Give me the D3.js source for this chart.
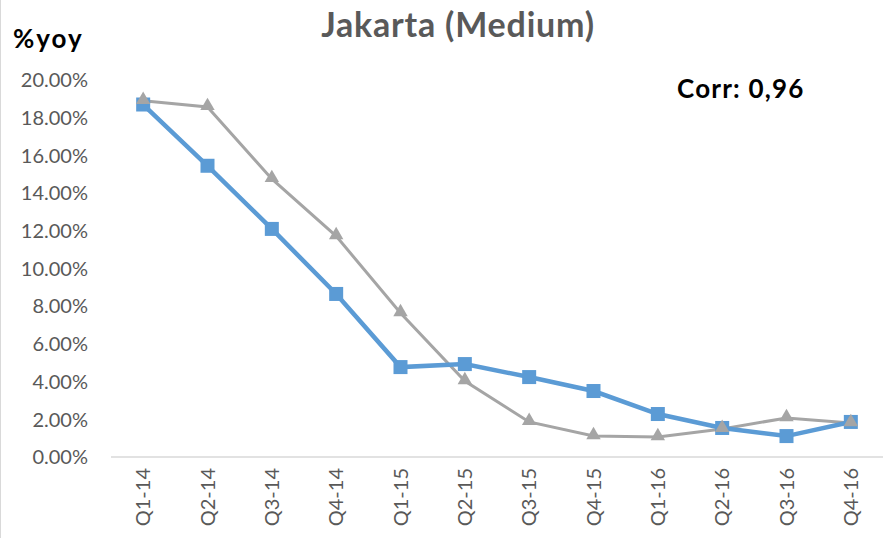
<!DOCTYPE html>
<html>
<head>
<meta charset="utf-8">
<script src="https://cdn.jsdelivr.net/npm/d3@7"></script>
<style>
  body { margin: 0; background: #fff; }
  text { font-family: Lato, "Open Sans", sans-serif; }
</style>
</head>
<body>
<main></main>
<script>
const quarters = ["Q1-14", "Q2-14", "Q3-14", "Q4-14", "Q1-15", "Q2-15", "Q3-15", "Q4-15", "Q1-16", "Q2-16", "Q3-16", "Q4-16"];
const blueSeries = [18.7, 15.45, 12.1, 8.65, 4.77, 4.93, 4.24, 3.5, 2.28, 1.54, 1.11, 1.86];
const graySeries = [18.9, 18.57, 14.75, 11.72, 7.64, 4.03, 1.86, 1.11, 1.06, 1.49, 2.07, 1.8];
const yTicks = [0, 2, 4, 6, 8, 10, 12, 14, 16, 18, 20];

const width = 883, height = 538;

const svg = d3.select("main")
  .append("svg")
  .attr("width", width)
  .attr("height", height);

// light frame on left edge like the excel chart area
svg.append("line")
  .attr("x1", 0.5).attr("x2", 0.5)
  .attr("y1", 0).attr("y2", height)
  .style("stroke", "#d9d9d9");

// scales
const x = d3.scaleBand().domain(quarters).range([111, 883]);
const y = d3.scaleLinear().domain([0, 20]).range([457, 80]);

// y axis labels
svg.append("g")
  .selectAll("text")
    .data(yTicks).enter()
  .append("text")
    .attr("x", 88)
    .attr("y", (d) => y(d))
    .attr("dy", "0.36em")
    .style("text-anchor", "end")
    .style("font-size", "20px")
    .style("fill", "#595959")
    .text((d) => d.toFixed(2) + "%");

// x axis line
svg.append("line")
  .attr("x1", 111).attr("x2", 883)
  .attr("y1", y(0)).attr("y2", y(0))
  .style("stroke", "#d9d9d9")
  .style("stroke-width", 1.5);

// x labels rotated
svg.append("g")
  .selectAll("text")
    .data(quarters).enter()
  .append("text")
    .attr("transform", (d) => `translate(${x(d) + x.bandwidth() / 2}, 468)rotate(-90)`)
    .attr("dy", "0.36em")
    .style("text-anchor", "end")
    .style("font-size", "20px")
    .style("fill", "#595959")
    .text((d) => d);

const cx = (i) => x(quarters[i]) + x.bandwidth() / 2;
const line = d3.line()
  .x((d, i) => cx(i))
  .y((d) => y(d));

// gray series
svg.append("path")
  .attr("d", line(graySeries))
  .style("fill", "none")
  .style("stroke", "#a5a5a5")
  .style("stroke-width", 3);

// blue series
svg.append("path")
  .attr("d", line(blueSeries))
  .style("fill", "none")
  .style("stroke", "#5b9bd5")
  .style("stroke-width", 4.5);

svg.append("g")
  .selectAll("rect")
    .data(blueSeries).enter()
  .append("rect")
    .attr("x", (d, i) => cx(i) - 7)
    .attr("y", (d) => y(d) - 7)
    .attr("width", 14)
    .attr("height", 14)
    .style("fill", "#5b9bd5");

const tri = d3.symbol().type(d3.symbolTriangle).size(90);
svg.append("g")
  .selectAll("path")
    .data(graySeries).enter()
  .append("path")
    .attr("d", tri)
    .attr("transform", (d, i) => `translate(${cx(i)}, ${y(d) - 1})`)
    .style("fill", "#a5a5a5");

// title and annotations
svg.append("text")
  .attr("x", 458).attr("y", 37)
  .style("text-anchor", "middle")
  .style("font-size", "34px")
  .style("letter-spacing", "0.8px")
  .style("font-weight", "bold")
  .style("fill", "#595959")
  .text("Jakarta (Medium)");

svg.append("text")
  .attr("x", 13).attr("y", 48)
  .style("font-size", "26px")
  .style("letter-spacing", "2px")
  .style("font-weight", "bold")
  .style("fill", "#000")
  .text("%yoy");

svg.append("text")
  .attr("x", 677).attr("y", 98)
  .style("font-size", "26px")
  .style("letter-spacing", "1.2px")
  .style("font-weight", "bold")
  .style("fill", "#000")
  .text("Corr: 0,96");
</script>
</body>
</html>
